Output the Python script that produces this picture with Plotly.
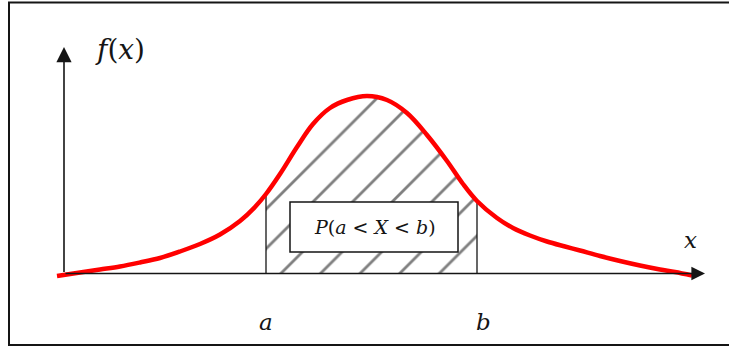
import plotly.graph_objects as go

# Density curve sampled along the horizontal axis (units: 1 = 10 px)
curve_x = [-0.7, 1.6, 3.6, 5.6, 7.6, 9.6, 11.6, 13.6, 15.6, 17.6, 19.1, 20.2, 21.6,
           23.3, 24.9, 26.6, 28.3, 30.3, 32.3, 34.3, 36.3, 38.3, 39.9, 41.3, 43.3,
           44.9, 46.6, 48.3, 50.1, 51.6, 53.6, 55.6, 57.6, 59.6, 61.1, 62.8]
curve_y = [-0.25, 0.1, 0.4, 0.7, 1.1, 1.55, 2.2, 2.95, 3.9, 5.25, 6.65, 7.95, 9.95,
           12.65, 14.95, 16.55, 17.35, 17.75, 17.35, 16.05, 13.85, 11.25, 8.95, 7.25,
           5.55, 4.55, 3.8, 3.2, 2.7, 2.3, 1.75, 1.25, 0.8, 0.4, 0.15, -0.2]

# Interval bounds
a_val = 20.2
b_val = 41.3
bound_labels = ["a", "b"]

# Axis extents
x_axis_end = 64.1
y_axis_end = 22.65

fa = curve_y[curve_x.index(a_val)]
fb = curve_y[curve_x.index(b_val)]

seg_x = [x for x in curve_x if a_val <= x <= b_val]
seg_y = [y for x, y in zip(curve_x, curve_y) if a_val <= x <= b_val]

ink = "#151515"
serif = "DejaVu Serif"

fig = go.Figure()

# Hatched area P(a < X < b)
fig.add_trace(go.Scatter(
    x=seg_x, y=seg_y, mode="lines", line=dict(width=0, shape="spline", smoothing=1),
    fill="tozeroy", fillcolor="rgba(0,0,0,0)",
    fillpattern=dict(shape="/", size=28, solidity=0.1, fgcolor="#000000",
                     bgcolor="rgba(0,0,0,0)"),
    hoverinfo="skip"))

# Vertical bounds at a and b
fig.add_trace(go.Scatter(
    x=[a_val, a_val, None, b_val, b_val], y=[0, fa, None, 0, fb],
    mode="lines", line=dict(color=ink, width=1.3), hoverinfo="skip"))

# Probability box
box_x0, box_x1, box_y0, box_y1 = 22.6, 39.4, 2.15, 7.15
fig.add_shape(type="rect", xref="x", yref="y", x0=box_x0, x1=box_x1, y0=box_y0, y1=box_y1,
              fillcolor="white", line=dict(color=ink, width=1.5), layer="above")

# Axes with arrowheads
fig.add_annotation(x=0, y=y_axis_end, ax=0, ay=0, xref="x", yref="y", axref="x", ayref="y",
                   showarrow=True, arrowhead=2, arrowwidth=1.6, arrowsize=1.9,
                   arrowcolor=ink, text="")
fig.add_annotation(x=x_axis_end, y=0, ax=0, ay=0, xref="x", yref="y", axref="x", ayref="y",
                   showarrow=True, arrowhead=2, arrowwidth=1.6, arrowsize=1.7,
                   arrowcolor=ink, text="")

# Density curve
fig.add_trace(go.Scatter(
    x=curve_x, y=curve_y, mode="lines",
    line=dict(color="#ff0000", width=4.5, shape="spline", smoothing=1),
    hoverinfo="skip"))

# Labels
fig.add_annotation(x=5.6, y=22.45, xref="x", yref="y", showarrow=False,
                   text="<i>f</i>(<i>x</i>)", font=dict(family=serif, size=28, color=ink))
fig.add_annotation(x=62.6, y=3.4, xref="x", yref="y", showarrow=False,
                   text="<i>x</i>", font=dict(family=serif, size=23, color=ink))
for val, lab in zip([a_val, b_val], bound_labels):
    fig.add_annotation(x=val + (0 if lab == "a" else 0.6), y=-4.85, xref="x", yref="y",
                       showarrow=False, text=f"<i>{lab}</i>",
                       font=dict(family=serif, size=23, color=ink))
fig.add_annotation(x=(box_x0 + box_x1) / 2 + 0.1, y=(box_y0 + box_y1) / 2, xref="x", yref="y",
                   showarrow=False,
                   text="<i>P</i>(<i>a</i> &lt; <i>X</i> &lt; <i>b</i>)",
                   font=dict(family=serif, size=19, color=ink))

# Outer frame
fig.add_shape(type="rect", xref="paper", yref="paper",
              x0=9 / 729, x1=1.5, y0=3 / 348, y1=345.5 / 348,
              line=dict(color=ink, width=2), fillcolor="rgba(0,0,0,0)")

fig.update_layout(
    width=729, height=348, margin=dict(l=0, r=0, t=0, b=0),
    paper_bgcolor="white", plot_bgcolor="white", showlegend=False,
    xaxis=dict(range=[-6.4, 66.5], visible=False, fixedrange=True),
    yaxis=dict(range=[-7.45, 27.35], visible=False, fixedrange=True),
)

fig.write_html("out.html")
